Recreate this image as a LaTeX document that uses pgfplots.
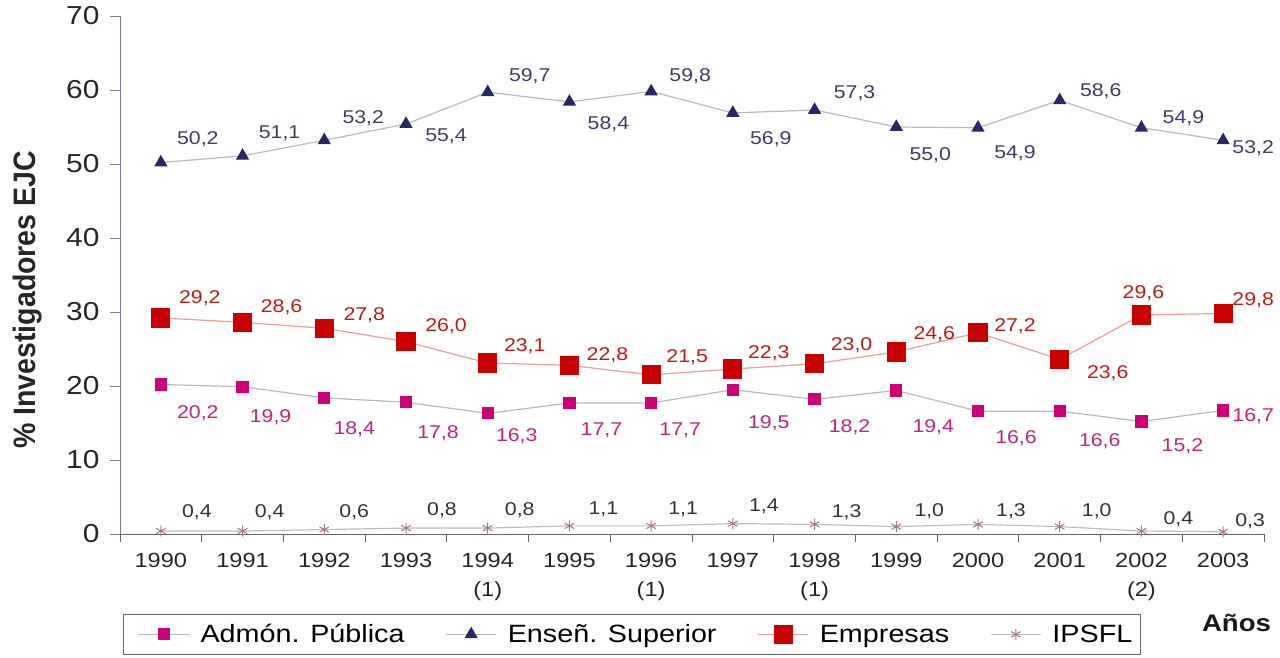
\documentclass[border=0pt]{standalone}
\usepackage{pgfplots}
\pgfplotsset{compat=1.18}
\usepackage{pgfplotstable}
\usepackage{fontspec}
\setmainfont[FakeStretch=1.15]{Liberation Sans}
\newfontfamily\narrowfont[FakeStretch=0.92]{Liberation Sans}

\definecolor{esmark}{RGB}{40,40,100}
\definecolor{eslab}{RGB}{60,60,100}
\definecolor{esline}{RGB}{185,185,190}
\definecolor{empmark}{RGB}{200,0,0}
\definecolor{emplab}{RGB}{190,25,20}
\definecolor{empline}{RGB}{232,160,150}
\definecolor{apmark}{RGB}{205,0,120}
\definecolor{aplab}{RGB}{190,35,130}
\definecolor{apline}{RGB}{185,185,185}
\definecolor{ipmark}{RGB}{165,115,145}
\definecolor{ipline}{RGB}{190,190,190}
\definecolor{iplab}{RGB}{50,50,50}
\definecolor{axiscol}{RGB}{120,125,160}

\pgfplotstableread{
x y lab dx dy
0 50.2 50,2 37 23
1 51.1 51,1 37 23
2 53.2 53,2 39 22
3 55.4 55,4 40 -12
4 59.7 59,7 42 16
5 58.4 58,4 39 -22
6 59.8 59,8 39 15
7 56.9 56,9 38 -26
8 57.3 57,3 40 17
9 55.0 55,0 34 -28
10 54.9 54,9 37 -25
11 58.6 58,6 41 9
12 54.9 54,9 42 10
13 53.2 53,2 30 -8
}\tES

\pgfplotstableread{
x y lab dx dy
0 29.2 29,2 39 20
1 28.6 28,6 39 15
2 27.8 27,8 40 13
3 26.0 26,0 40 15
4 23.1 23,1 37 17
5 22.8 22,8 38 10
6 21.5 21,5 36 18
7 22.3 22,3 36 16
8 23.0 23,0 37 19
9 24.6 24,6 38 18
10 27.2 27,2 37 6
11 23.6 23,6 48 -14
12 29.6 29,6 2 22
13 29.8 29,8 30 13
}\tEMP

\pgfplotstableread{
x y lab dx dy
0 20.2 20,2 37 -29
1 19.9 19,9 28 -30
2 18.4 18,4 30 -31
3 17.8 17,8 32 -31
4 16.3 16,3 29 -23
5 17.7 17,7 32 -27
6 17.7 17,7 29 -27
7 19.5 19,5 36 -34
8 18.2 18,2 35 -28
9 19.4 19,4 37 -37
10 16.6 16,6 38 -27
11 16.6 16,6 40 -30
12 15.2 15,2 41 -25
13 16.7 16,7 30 -6
}\tAP

\pgfplotstableread{
x y lab dx dy
0 0.4 0,4 36 19
1 0.4 0,4 27 19
2 0.6 0,6 30 17
3 0.8 0,8 36 18
4 0.8 0,8 32 18
5 1.1 1,1 34 17
6 1.1 1,1 32 17
7 1.4 1,4 31 17
8 1.3 1,3 32 12
9 1.0 1,0 33 15
10 1.3 1,3 33 13
11 1.0 1,0 37 15
12 0.4 0,4 37 12
13 0.3 0,3 27 11
}\tIP

\pgfplotsset{
  lbl/.style={
    nodes near coords,
    point meta=explicit symbolic,
    visualization depends on={\thisrow{dx}\as\dx},
    visualization depends on={\thisrow{dy}\as\dy},
    every node near coord/.append style={anchor=center, xshift=\dx pt, yshift=\dy pt,
      font=\fontsize{18.5}{20}\selectfont, text=#1},
  },
}

\begin{document}
\begin{tikzpicture}
\path[use as bounding box] (0,0) rectangle (1280pt,658pt);
\begin{axis}[
  at={(120pt,124pt)}, anchor=south west,
  width=1144pt, height=518pt, scale only axis,
  xmin=-0.5, xmax=13.5, ymin=0, ymax=70,
  axis x line=bottom, axis y line=left,
  axis line style={-, draw=axiscol, line width=0.9pt},
  x axis line style={draw=black!60},
  clip=false,
  xtick={0,...,13},
  xticklabels={1990,1991,1992,1993,{1994\\(1)},1995,{1996\\(1)},1997,{1998\\(1)},1999,2000,2001,{2002\\(2)},2003},
  minor xtick={-0.5,0.5,...,13.5},
  ytick={0,10,...,70},
  tick align=outside,
  major tick length=10pt, minor tick length=8pt,
  major x tick style={draw=none},
  minor x tick style={draw=black!60, line width=0.9pt},
  major y tick style={draw=axiscol, line width=0.9pt},
  /pgf/number format/assume math mode=true,
  xticklabel style={font=\fontsize{20.5}{29}\selectfont, align=center, text=black!85, yshift=-6pt},
  yticklabel style={font=\fontsize{26}{28}\selectfont, text=black!85, xshift=-7pt},
  ylabel={\% Investigadores EJC},
  every axis y label/.style={at={(axis description cs:-0.0804,0.452)}, rotate=90, anchor=center,
    font=\narrowfont\bfseries\fontsize{31}{33}\selectfont, text=black!85},
  legend style={at={(axis description cs:0.0026,-0.1544)}, anchor=north west,
    draw=black!60, line width=0.8pt, font=\fontsize{25}{28}\selectfont,
    /tikz/every even column/.append style={column sep=30pt},
    inner xsep=6pt, inner ysep=8pt},
  legend columns=4,
  legend cell align=left,
  legend image code/.code={\path (-9pt,0pt) (59pt,0pt);\draw[mark repeat=2,mark phase=2,#1] plot coordinates {(0pt,0pt) (25pt,0pt) (50pt,0pt)};},
]
\addplot[color=apline, line width=1.2pt, mark=square*, mark size=5.5pt,
  mark options={draw=apmark, fill=apmark}, lbl=aplab]
  table[x=x, y=y, meta=lab]{\tAP};
\addlegendentry{Admón. Pública}
\addplot[color=esline, line width=1.2pt, mark=triangle*, mark size=6.5pt,
  mark options={draw=esmark, fill=esmark}, lbl=eslab]
  table[x=x, y=y, meta=lab]{\tES};
\addlegendentry{Enseñ. Superior}
\addplot[color=empline, line width=1.2pt, mark=square*, mark size=9pt,
  mark options={draw=empmark, fill=empmark}, lbl=emplab]
  table[x=x, y=y, meta=lab]{\tEMP};
\addlegendentry{Empresas}
\addplot[color=ipline, line width=1.2pt, mark=asterisk, mark size=5.5pt,
  mark options={draw=ipmark, line width=1pt}, lbl=iplab]
  table[x=x, y=y, meta=lab]{\tIP};
\addlegendentry{IPSFL}
\node[font=\bfseries\fontsize{24}{26}\selectfont, text=black!90] at (rel axis cs:0.976,-0.172) {Años};
\end{axis}
\end{tikzpicture}
\end{document}
